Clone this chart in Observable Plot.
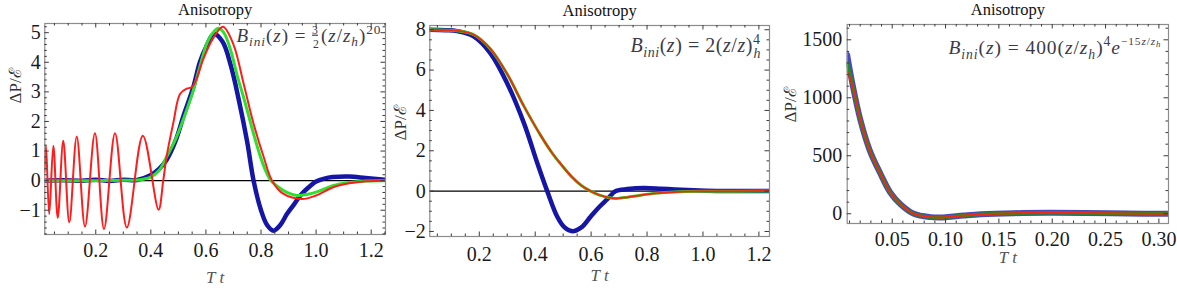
<!DOCTYPE html>
<html><head><meta charset="utf-8">
<script src="https://cdn.jsdelivr.net/npm/d3@7"></script>
<script src="https://cdn.jsdelivr.net/npm/@observablehq/plot@0.6"></script>
<style>
html,body{margin:0;padding:0;background:#fff;}
#wrap{position:relative;width:1177px;height:292px;overflow:hidden;background:#fff;}
.panel{position:absolute;top:0;}
</style></head><body><div id="wrap"></div>
<script>
// ---------------- data ----------------
const title = "Anisotropy";
const yLabel = "ΔP/ℰ";
const xLabel = "T t";

// panel 1  B_ini = 3/2 (z/z_h)^20
const p1Blue = [[0.015,0.0],[0.08,0.01],[0.15,0.0],[0.2,0.03],[0.25,-0.01],[0.3,0.03],[0.35,0.02],[0.397,0.17],[0.43,0.4],[0.457,0.7],[0.49,1.35],[0.519,2.2],[0.554,3.15],[0.578,4.0],[0.6,4.5],[0.628,4.95],[0.66,4.7],[0.69,3.9],[0.72,2.7],[0.75,1.3],[0.773,0.0],[0.8,-1.0],[0.822,-1.5],[0.845,-1.69],[0.87,-1.5],[0.894,-1.13],[0.92,-0.8],[0.943,-0.5],[0.97,-0.25],[1.0,-0.03],[1.03,0.07],[1.06,0.12],[1.12,0.14],[1.18,0.09],[1.25,0.03]];
const p1Green = [[0.015,0.0],[0.1,0.0],[0.2,0.0],[0.3,0.01],[0.35,0.02],[0.397,0.11],[0.43,0.35],[0.457,0.8],[0.49,1.4],[0.519,2.1],[0.554,3.05],[0.578,3.85],[0.606,4.7],[0.63,5.05],[0.646,5.15],[0.665,5.0],[0.69,4.4],[0.715,3.5],[0.737,2.81],[0.773,1.58],[0.8,0.75],[0.822,0.23],[0.836,0.0],[0.86,-0.2],[0.894,-0.4],[0.93,-0.5],[0.97,-0.46],[1.0,-0.39],[1.03,-0.28],[1.06,-0.17],[1.12,-0.06],[1.18,-0.01],[1.25,0.0]];
const p1Red = [[0.014,0.3],[0.0193,1.18],[0.031,-1.13],[0.046,1.18],[0.062,-1.26],[0.082,1.35],[0.104,-1.41],[0.131,1.49],[0.161,-1.55],[0.197,1.6],[0.23,-1.63],[0.27,1.6],[0.313,-1.58],[0.371,1.52],[0.428,-0.98],[0.445,0.0],[0.457,0.8],[0.482,1.97],[0.506,2.93],[0.53,3.11],[0.548,3.15],[0.566,3.44],[0.59,4.1],[0.628,4.84],[0.662,5.2],[0.7,4.6],[0.737,3.27],[0.773,1.92],[0.81,0.79],[0.84,0.0],[0.882,-0.45],[0.949,-0.62],[1.0,-0.5],[1.06,-0.23],[1.12,-0.09],[1.18,-0.02],[1.25,0.0]];

// panel 2  B_ini = 2 (z/z)^4_h
const p2Blue = [[0.02,8.0],[0.08,7.98],[0.121,7.93],[0.181,7.66],[0.24,6.83],[0.3,5.34],[0.36,3.36],[0.408,1.37],[0.443,0.0],[0.479,-1.27],[0.505,-1.8],[0.533,-1.99],[0.565,-1.8],[0.598,-1.27],[0.628,-0.8],[0.658,-0.4],[0.688,0.0],[0.73,0.1],[0.788,0.16],[0.85,0.12],[0.9,0.08],[0.967,0.04],[1.05,0.01],[1.24,0.0]];
const p2Green = [[0.02,8.0],[0.08,7.98],[0.121,7.95],[0.181,7.75],[0.24,7.05],[0.3,5.8],[0.36,4.2],[0.42,2.75],[0.46,1.9],[0.491,1.35],[0.53,0.72],[0.565,0.28],[0.598,0.0],[0.63,-0.2],[0.665,-0.33],[0.694,-0.36],[0.73,-0.3],[0.777,-0.2],[0.837,-0.1],[0.9,-0.04],[1.0,-0.01],[1.24,0.0]];
const p2Red = [[0.02,8.0],[0.08,7.98],[0.121,7.95],[0.181,7.75],[0.24,7.05],[0.3,5.8],[0.36,4.2],[0.42,2.75],[0.46,1.9],[0.491,1.35],[0.53,0.72],[0.565,0.28],[0.598,0.0],[0.63,-0.2],[0.665,-0.33],[0.694,-0.36],[0.73,-0.3],[0.777,-0.2],[0.837,-0.1],[0.9,-0.04],[1.0,-0.01],[1.24,0.0]];

// panel 3  B_ini = 400 (z/z_h)^4 e^{-15 z/z_h}
const p3Blue = [[0.0078,1370],[0.0125,1130],[0.0203,804],[0.029,545],[0.039,345],[0.048,186],[0.058,80],[0.0703,0],[0.086,-29],[0.095,-32],[0.102,-28],[0.117,-16],[0.133,-5],[0.164,5],[0.196,8],[0.23,6],[0.27,2],[0.309,0]];
const p3Green = [[0.0078,1300],[0.0125,1120],[0.0203,804],[0.029,545],[0.039,345],[0.048,186],[0.058,80],[0.0703,0],[0.086,-29],[0.095,-32],[0.102,-28],[0.117,-16],[0.133,-5],[0.164,5],[0.196,8],[0.23,6],[0.27,2],[0.309,0]];
const p3Red = [[0.0078,1230],[0.0125,1110],[0.0203,804],[0.029,545],[0.039,345],[0.048,186],[0.058,80],[0.0703,0],[0.086,-29],[0.095,-32],[0.102,-28],[0.117,-16],[0.133,-5],[0.164,5],[0.196,8],[0.23,6],[0.27,2],[0.309,0]];

// tick values and labels
const p1XTicks = [0.2,0.4,0.6,0.8,1.0,1.2];
const p1XLabels = ["0.2","0.4","0.6","0.8","1.0","1.2"];
const p1YTicks = [-1,0,1,2,3,4,5];
const p1YLabels = ["−1","0","1","2","3","4","5"];
const p2XTicks = [0.2,0.4,0.6,0.8,1.0,1.2];
const p2XLabels = ["0.2","0.4","0.6","0.8","1.0","1.2"];
const p2YTicks = [-2,0,2,4,6,8];
const p2YLabels = ["−2","0","2","4","6","8"];
const p3XTicks = [0.05,0.10,0.15,0.20,0.25,0.30];
const p3XLabels = ["0.05","0.10","0.15","0.20","0.25","0.30"];
const p3YTicks = [0,500,1000,1500];
const p3YLabels = ["0","500","1000","1500"];

const formula1 = "B_ini(z) = 3/2(z/z_h)^20";
const formula2 = "B_ini(z) = 2(z/z)^4_h";
const formula3 = "B_ini(z) = 400(z/z_h)^4 e^(−15z/z_h)";

// ---------------- drawing ----------------
const FONT = "Liberation Serif, DejaVu Serif, serif";
const BLUE = "#1616a6", GREEN = "#2ee02e", RED = "#ff1c1c";

function minorTicks(lo, hi, step, majors) {
  return d3.range(Math.ceil(lo / step - 1e-9), Math.floor(hi / step + 1e-9) + 1)
    .map(k => +(k * step).toFixed(6))
    .filter(v => !majors.some(m => Math.abs(m - v) < step / 10));
}

function mathText(textSel, segs, base) {
  textSel.text("");
  let off = 0;
  segs.forEach(s => {
    const fs = base * (s.size || 1);
    const target = (s.shift || 0) * base;
    const ts = textSel.append("tspan").text(s.t).attr("font-size", fs).attr("dy", target - off);
    if (s.it) ts.attr("font-style", "italic");
    if (s.dx) ts.attr("dx", s.dx * base);
    if (s.under) ts.attr("text-decoration", "underline");
    off = target;
  });
}

function makePanel(cfg) {
  const H = 292;
  const fw = cfg.width - cfg.ml - cfg.mr;
  const fh = H - cfg.mt - cfg.mb;
  const MJ = 4.5, MN = 2.5, TC = "#3a3a3a";
  const minX = minorTicks(cfg.xDomain[0], cfg.xDomain[1], cfg.xMinorStep, cfg.xTicks);
  const minY = minorTicks(cfg.yDomain[0], cfg.yDomain[1], cfg.yMinorStep, cfg.yTicks);
  const marks = [];
  if (cfg.zero) marks.push(Plot.ruleY([0], {stroke: "#000", strokeWidth: 1.4, clip: true}));
  cfg.series.forEach(s => marks.push(Plot.line(s.data, {
    x: d => d[0], y: d => d[1], stroke: s.color, strokeWidth: s.w, strokeOpacity: s.o ?? 1,
    curve: "catmull-rom", clip: true
  })));
  marks.push(Plot.frame({stroke: "#8c8c8c", strokeWidth: 1.2}));
  marks.push(Plot.tickX(cfg.xTicks, {x: d => d, insetTop: fh - MJ, stroke: TC}));
  marks.push(Plot.tickX(cfg.xTicks, {x: d => d, insetBottom: fh - MJ, stroke: TC}));
  marks.push(Plot.tickX(minX, {x: d => d, insetTop: fh - MN, stroke: TC}));
  marks.push(Plot.tickX(minX, {x: d => d, insetBottom: fh - MN, stroke: TC}));
  marks.push(Plot.tickY(cfg.yTicks, {y: d => d, insetRight: fw - MJ, stroke: TC}));
  marks.push(Plot.tickY(cfg.yTicks, {y: d => d, insetLeft: fw - MJ, stroke: TC}));
  marks.push(Plot.tickY(minY, {y: d => d, insetRight: fw - MN, stroke: TC}));
  marks.push(Plot.tickY(minY, {y: d => d, insetLeft: fw - MN, stroke: TC}));
  // tick labels
  marks.push(Plot.text(cfg.xTicks, {x: d => d, frameAnchor: "bottom", dy: cfg.xtDy, text: (d, i) => cfg.xLabels[i],
    lineAnchor: "middle", fontSize: 20, fontFamily: FONT, fill: "#1a1a1a"}));
  marks.push(Plot.text(cfg.yTicks, {y: d => d, frameAnchor: "left", dx: cfg.ytDx, text: (d, i) => cfg.yLabels[i],
    textAnchor: "end", lineAnchor: "middle", fontSize: 20, fontFamily: FONT, fill: "#1a1a1a"}));
  // titles
  marks.push(Plot.text([title], {frameAnchor: "top", dy: cfg.titleDy, text: d => d, fontSize: 16.5, fontFamily: FONT, lineAnchor: "middle", fill: "#111"}));
  marks.push(Plot.text([yLabel], {frameAnchor: "top-left", dx: cfg.ylDx, dy: cfg.ylDy, rotate: -90, text: d => d, fontSize: 17, fontFamily: FONT, fill: "#333", lineAnchor: "middle"}));
  marks.push(Plot.text([xLabel], {frameAnchor: "bottom", dy: cfg.xlDy, text: d => d, fontSize: 17, fontFamily: FONT, fontStyle: "italic", fill: "#555", lineAnchor: "middle"}));
  marks.push(Plot.text([cfg.formula], {frameAnchor: "top-right", dx: cfg.fDx, dy: cfg.fDy, textAnchor: "end", lineAnchor: "middle", text: d => d, fontSize: cfg.fSize, fontFamily: FONT, fill: "#3b3b48"}));

  const svg = Plot.plot({
    width: cfg.width, height: H,
    marginLeft: cfg.ml, marginRight: cfg.mr, marginTop: cfg.mt, marginBottom: cfg.mb,
    x: {domain: cfg.xDomain, axis: null},
    y: {domain: cfg.yDomain, axis: null},
    style: {background: "white", overflow: "visible"},
    marks
  });
  d3.select(svg).selectAll("text").filter(function () { return this.textContent === cfg.formula; })
    .each(function () {
      const sel = d3.select(this);
      mathText(sel, cfg.segs, cfg.fSize);
      sel.attr("textLength", cfg.fWidth).attr("lengthAdjust", "spacing");
    });
  const div = document.createElement("div");
  div.className = "panel";
  div.style.left = cfg.left + "px";
  div.style.width = cfg.width + "px";
  div.appendChild(svg);
  document.getElementById("wrap").appendChild(div);
}

const EQ = "\u2005=\u2005";
const segs1 = [
  {t: "B", it: 1}, {t: "ini", it: 1, size: .7, shift: .25}, {t: "("}, {t: "z", it: 1}, {t: ")" + EQ},
  {t: "3", size: .62, shift: -.42, under: 1}, {t: "2", size: .62, shift: .32, dx: -.31},
  {t: "(", dx: .06}, {t: "z", it: 1}, {t: "/"}, {t: "z", it: 1}, {t: "h", it: 1, size: .7, shift: .25}, {t: ")"},
  {t: "20", size: .7, shift: -.42}
];
const segs2 = [
  {t: "B", it: 1}, {t: "ini", it: 1, size: .7, shift: .25}, {t: "("}, {t: "z", it: 1}, {t: ")" + EQ + "2("},
  {t: "z", it: 1}, {t: "/"}, {t: "z", it: 1}, {t: ")"},
  {t: "4", size: .7, shift: -.42}, {t: "h", it: 1, size: .7, shift: .3, dx: -.35}
];
const segs3 = [
  {t: "B", it: 1}, {t: "ini", it: 1, size: .7, shift: .25}, {t: "("}, {t: "z", it: 1}, {t: ")" + EQ + "400("},
  {t: "z", it: 1}, {t: "/"}, {t: "z", it: 1}, {t: "h", it: 1, size: .7, shift: .25}, {t: ")"},
  {t: "4", size: .7, shift: -.42}, {t: "e", it: 1}, {t: "−15", size: .58, shift: -.45}, {t: "z", it: 1, size: .58, shift: -.45},
  {t: "/", size: .58, shift: -.45}, {t: "z", it: 1, size: .58, shift: -.45}, {t: "h", it: 1, size: .45, shift: -.33}
];

makePanel({
  left: 0, width: 392, ml: 44.3, mr: 7, mt: 23, mb: 58,
  xDomain: [0.015, 1.252], yDomain: [-1.82, 5.31],
  xTicks: p1XTicks, xLabels: p1XLabels, xMinorStep: 0.05,
  yTicks: p1YTicks, yLabels: p1YLabels, yMinorStep: 0.2, zero: true,
  series: [{data: p1Blue, color: BLUE, w: 4.5}, {data: p1Green, color: GREEN, w: 3}, {data: p1Red, color: RED, w: 2}],
  titleDy: -13.5, ylDx: -29.3, ylDy: 80, xlDy: 43, xtDy: 16, ytDx: -4,
  formula: formula1, segs: segs1, fDx: -5, fDy: 12, fSize: 19, fWidth: 144
});
makePanel({
  left: 392, width: 390, ml: 37.3, mr: 13, mt: 25, mb: 56,
  xDomain: [0.023, 1.238], yDomain: [-2.25, 8.21],
  xTicks: p2XTicks, xLabels: p2XLabels, xMinorStep: 0.05,
  yTicks: p2YTicks, yLabels: p2YLabels, yMinorStep: 0.5, zero: true,
  series: [{data: p2Blue, color: BLUE, w: 4.5}, {data: p2Green, color: GREEN, w: 3}, {data: p2Red, color: "#e8300c", w: 2}],
  titleDy: -15, ylDx: -29.3, ylDy: 115, xlDy: 39, xtDy: 18, ytDx: -4,
  formula: formula2, segs: segs2, fDx: -9, fDy: 20, fSize: 20, fWidth: 130
});
makePanel({
  left: 782, width: 395, ml: 64.7, mr: 9, mt: 24, mb: 69,
  xDomain: [0.0078, 0.309], yDomain: [-84, 1632],
  xTicks: p3XTicks, xLabels: p3XLabels, xMinorStep: 0.01,
  yTicks: p3YTicks, yLabels: p3YLabels, yMinorStep: 100, zero: false,
  series: [{data: p3Blue, color: "#2a2ab0", w: 6, o: 0.85}, {data: p3Green, color: "#1f8f1f", w: 3.5}, {data: p3Red, color: "#ee2a10", w: 2}],
  titleDy: -15, ylDx: -56.7, ylDy: 98, xlDy: 34, xtDy: 16, ytDx: -5,
  formula: formula3, segs: segs3, fDx: -8, fDy: 23, fSize: 19.5, fWidth: 212
});
</script></body></html>
